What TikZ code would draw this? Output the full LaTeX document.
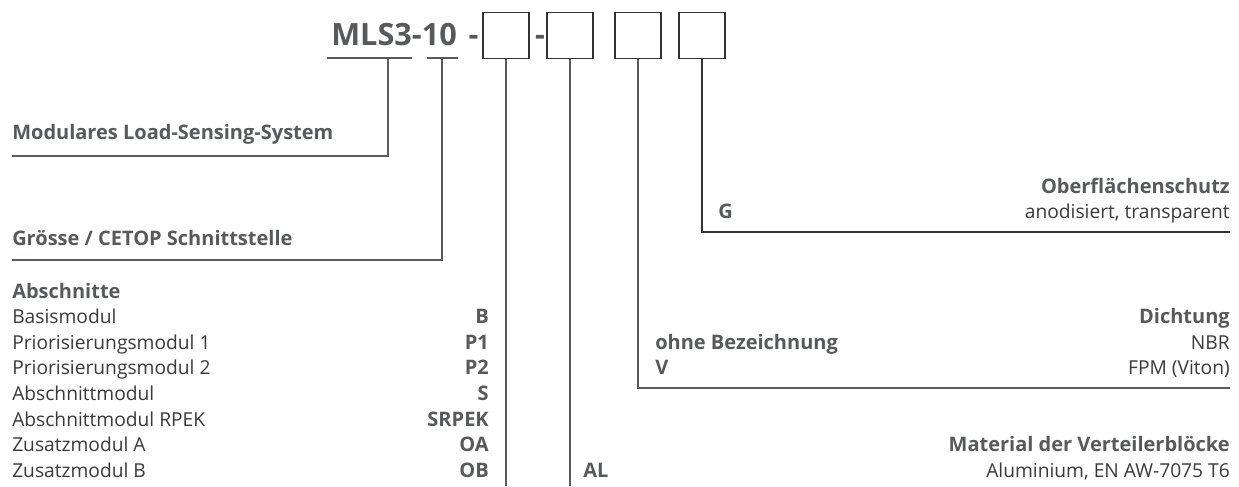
\documentclass[tikz,border=0pt]{standalone}
\usepackage{fontspec}
\setmainfont{Open Sans}
\usetikzlibrary{positioning}
\definecolor{labelgray}{HTML}{58595B}
\definecolor{textgray}{HTML}{3A3A3A}
\definecolor{linegray}{HTML}{5A5A5A}

\begin{document}
\begin{tikzpicture}[x=0.75pt,y=-0.75pt]
\tikzset{
  lbl/.style={font=\fontsize{15}{18}\selectfont\bfseries, text=labelgray, inner sep=0pt},
  txt/.style={font=\fontsize{14.4}{17}\selectfont, text=textgray, inner sep=0pt},
  codebox/.style={draw=black!80, line width=0.8pt, minimum size=34.5pt, inner sep=0pt},
  leader/.style={draw=linegray, line width=0.8pt}
}
\useasboundingbox (0,0) rectangle (1239,486);

% type code
\node[lbl, anchor=base west, font=\fontsize{23}{27}\selectfont\bfseries] (series) at (331,45) {MLS3-10};
\node[lbl, anchor=base, font=\fontsize{23}{27}\selectfont\bfseries] (dash1) at (473.5,45) {-};
\node[lbl, anchor=base, font=\fontsize{23}{27}\selectfont\bfseries] (dash2) at (540,45) {-};
\node[codebox] (c1) at (506,35.7) {};
\node[codebox] (c2) at (570,35.7) {};
\node[codebox] (c3) at (638,35.7) {};
\node[codebox] (c4) at (702,35.7) {};
\coordinate (serL) at (327,58); \coordinate (serR) at (412,58); \coordinate (serM) at (388,58);
\coordinate (sizL) at (427,58); \coordinate (sizR) at (458,58); \coordinate (sizM) at (442,58);
\coordinate (bot) at (0,486);
\draw[leader] (serL) -- (serR) (sizL) -- (sizR);

% left side
\node[lbl, anchor=base west] (modlbl) at (12,139) {Modulares Load-Sensing-System};
\node[lbl, anchor=base west] (sizlbl) at (12,245) {Grösse / CETOP Schnittstelle};
\coordinate (modL) at (12,156); \coordinate (sizlL) at (12,260);
\draw[leader] (serM) |- (modL);
\draw[leader] (sizM) |- (sizlL);

\node[lbl, anchor=base west] (seclbl) at (12,298) {Abschnitte};
\foreach \name/\code [count=\i] in {Basismodul/B, Priorisierungsmodul 1/P1, Priorisierungsmodul 2/P2,
    Abschnittmodul/S, Abschnittmodul RPEK/SRPEK, Zusatzmodul A/OA, Zusatzmodul B/OB}{
  \node[txt, anchor=base west] (row\i) at (12,{298+25.6*\i}) {\name};
  \node[lbl, anchor=base east] (code\i) at (489,{298+25.6*\i}) {\code};
}
\draw[leader] (c1.south) -- (c1.south |- bot);
\draw[leader] (c2.south) -- (c2.south |- bot);
\node[lbl, anchor=base west] (matcode) at (583,477.2) {AL};

% right side
\node[lbl, anchor=base east] (surflbl) at (1230,193) {Oberflächenschutz};
\node[lbl, anchor=base west] (surfcode) at (718,218.6) {G};
\node[txt, anchor=base east] (surftxt) at (1230,218.6) {anodisiert, transparent};
\coordinate (surfR) at (1230,232);
\draw[leader, draw=black!80] (c4.south) |- (surfR);

\node[lbl, anchor=base east] (seallbl) at (1230,323.6) {Dichtung};
\node[lbl, anchor=base west] (sealcode1) at (655,349.2) {ohne Bezeichnung};
\node[lbl, anchor=base west] (sealcode2) at (655,374.8) {V};
\node[txt, anchor=base east] (sealtxt1) at (1230,349.2) {NBR};
\node[txt, anchor=base east] (sealtxt2) at (1230,374.8) {FPM (Viton)};
\coordinate (sealR) at (1230,388);
\draw[leader] (c3.south) |- (sealR);

\node[lbl, anchor=base east] (matlbl) at (1230,451.6) {Material der Verteilerblöcke};
\node[txt, anchor=base east] (mattxt) at (1230,477.2) {Aluminium, EN AW-7075 T6};
\end{tikzpicture}
\end{document}
